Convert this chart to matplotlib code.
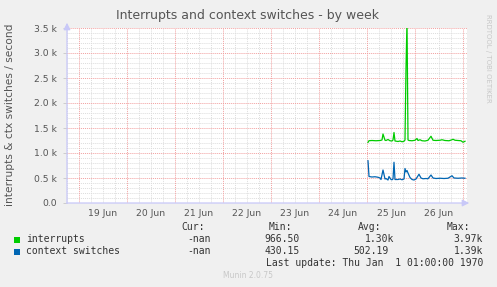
#!/usr/bin/env python3

import numpy as np
import matplotlib
matplotlib.use("Agg")
import matplotlib.pyplot as plt

""" munin style week graph: interrupts and context switches """

# hours after 25 Jun 00:00
irq_hours = [0.5, 1, 2.5, 4.5, 6.5, 7.5, 8, 9, 9.5, 10.5, 11.5, 12.5, 13, 13.5, 14, 15.5,
	16.5, 17.5, 18.5, 19, 19.5, 20, 20.5, 21, 22.5, 24, 25, 25.5, 26.5, 27.5, 29, 30.5,
	32, 33, 34.5, 36.5, 37.5, 39, 41, 42.5, 43, 44, 45.5, 47, 48, 49]
irq_vals = [1213, 1246, 1250, 1245, 1250, 1260, 1380, 1255, 1250, 1270, 1245, 1240, 1260, 1410, 1240, 1230,
	1240, 1225, 1235, 1260, 2700, 3650, 1260, 1250, 1245, 1255, 1290, 1250, 1265, 1245, 1240, 1255,
	1335, 1255, 1250, 1255, 1265, 1250, 1245, 1265, 1275, 1255, 1250, 1245, 1215, 1235]

ctx_hours = [0.5, 1, 2.5, 4, 5.5, 6.5, 7, 8, 9, 9.5, 10.5, 11, 12, 12.5, 13, 13.5, 14, 15.5,
	16.5, 17.5, 18.5, 19, 19.5, 20, 20.5, 21.5, 22.5, 23.5, 24.5, 26, 27, 28, 29.5, 30.5,
	32, 33, 34.5, 36.5, 38.5, 40.5, 42.5, 43.5, 45.5, 47.5, 49]
ctx_vals = [845, 530, 520, 525, 515, 500, 470, 660, 480, 490, 460, 530, 470, 465, 480, 815, 470, 470,
	480, 465, 480, 690, 620, 650, 600, 510, 470, 460, 480, 575, 500, 485, 490, 485,
	560, 500, 490, 495, 490, 495, 545, 500, 495, 500, 495]

day_labels = ["19 Jun", "20 Jun", "21 Jun", "22 Jun", "23 Jun", "24 Jun", "25 Jun", "26 Jun"]
ytick_vals = [0, 500, 1000, 1500, 2000, 2500, 3000, 3500]
ytick_labels = ["0.0", "0.5 k", "1.0 k", "1.5 k", "2.0 k", "2.5 k", "3.0 k", "3.5 k"]

series = ["interrupts", "context switches"]
colors = ["#00CC00", "#0066B3"]
cur_col = ["-nan", "-nan"]
min_col = ["966.50", "430.15"]
avg_col = ["1.30k", "502.19"]
max_col = ["3.97k", "1.39k"]

W, H = 497, 287
BACK = "#F0F0F0"
TXT = "#555555"

fig = plt.figure(figsize=(W / 100, H / 100), dpi=100, facecolor=BACK)

def fx(px) :
	return px / W

def fy(py) :
	return 1 - py / H

ax = fig.add_axes([fx(67), fy(203), fx(467) - fx(67), fy(28) - fy(203)])
ax.set_facecolor("white")
ax.set_xlim(-0.25, 8.0833)
ax.set_ylim(0, 3500)

# grid: 6h / 100 minor, midnight / 500 major
for d in np.arange(-0.25, 8.09, 0.25) :
	if abs(d - round(d)) < 1e-6 :
		continue
	ax.axvline(d, color="#DDDDDD", lw=0.7, ls=(0, (1, 1)), zorder=1)
for v in range(100, 3501, 100) :
	if v % 500 == 0 :
		continue
	ax.axhline(v, color="#DDDDDD", lw=0.7, ls=(0, (1, 1)), zorder=1)
for d in range(0, 9) :
	ax.axvline(d, color="#F2A0A0", lw=0.7, ls=(0, (1, 1)), zorder=2)
for v in ytick_vals[1:] :
	ax.axhline(v, color="#F2A0A0", lw=0.7, ls=(0, (1, 1)), zorder=2)

irq_x = 6 + np.array(irq_hours) / 24.0
ctx_x = 6 + np.array(ctx_hours) / 24.0
ax.plot(irq_x, irq_vals, color=colors[0], lw=0.9, zorder=4)
ax.plot(ctx_x, ctx_vals, color=colors[1], lw=0.9, zorder=4)

for s in ax.spines.values() :
	s.set_visible(False)

ax.set_yticks(ytick_vals)
ax.set_yticklabels(ytick_labels)
ax.set_xticks(np.arange(0, 8) + 0.5)
ax.set_xticklabels(day_labels)
ax.tick_params(axis="x", length=0, pad=4, labelsize=6.7, labelcolor=TXT)
ax.tick_params(axis="y", length=3, width=0.7, color="#CCCCCC", pad=4, labelsize=6.7, labelcolor=TXT)

# axis lines with arrows
ax.annotate("", xy=(472 / W, fy(203)), xytext=(64 / W, fy(203)), xycoords="figure fraction",
	arrowprops=dict(arrowstyle="-|>,head_length=0.4,head_width=0.2", color="#C8C8F8", lw=0.9))
ax.annotate("", xy=(fx(67), fy(20)), xytext=(fx(67), fy(206)), xycoords="figure fraction",
	arrowprops=dict(arrowstyle="-|>,head_length=0.4,head_width=0.2", color="#C8C8F8", lw=0.9))

fig.text(fx(248), fy(15), "Interrupts and context switches - by week", ha="center", va="center",
	fontsize=9, color=TXT)
fig.text(fx(10), fy(115), "interrupts & ctx switches / second", rotation=90, ha="center", va="center",
	fontsize=7.7, color=TXT)
fig.text(fx(488), fy(58), "RRDTOOL / TOBI OETIKER", rotation=270, ha="center", va="center",
	fontsize=5, color="#C8C8C8")

mono = "DejaVu Sans Mono"
LT = "#333333"
fig.text(fx(181), fy(227), "Cur:", ha="left", va="center", family=mono, fontsize=7, color=LT)
fig.text(fx(292), fy(227), "Min:", ha="right", va="center", family=mono, fontsize=7, color=LT)
fig.text(fx(381), fy(227), "Avg:", ha="right", va="center", family=mono, fontsize=7, color=LT)
fig.text(fx(470), fy(227), "Max:", ha="right", va="center", family=mono, fontsize=7, color=LT)

rows_y = [239.5, 251.5]
for i, name in enumerate(series) :
	y = fy(rows_y[i])
	fig.patches.append(plt.Rectangle((fx(14), fy(rows_y[i] + 3)), 6 / W, 6 / H,
		transform=fig.transFigure, facecolor=colors[i], edgecolor="none"))
	fig.text(fx(26.5), y, name, ha="left", va="center", family=mono, fontsize=7, color=LT)
	fig.text(fx(211), y, cur_col[i], ha="right", va="center", family=mono, fontsize=7, color=LT)
	fig.text(fx(299.5), y, min_col[i], ha="right", va="center", family=mono, fontsize=7, color=LT)
	fig.text(fx(394.5 if i == 0 else 388.5), y, avg_col[i], ha="right", va="center", family=mono, fontsize=7, color=LT)
	fig.text(fx(483), y, max_col[i], ha="right", va="center", family=mono, fontsize=7, color=LT)

fig.text(fx(483), fy(263.5), "Last update: Thu Jan  1 01:00:00 1970", ha="right", va="center",
	family=mono, fontsize=7, color=LT)
fig.text(fx(248), fy(276), "Munin 2.0.75", ha="center", va="center", fontsize=5.5, color="#C8C8C8")

fig.savefig("out.png", dpi=100, facecolor=BACK)
